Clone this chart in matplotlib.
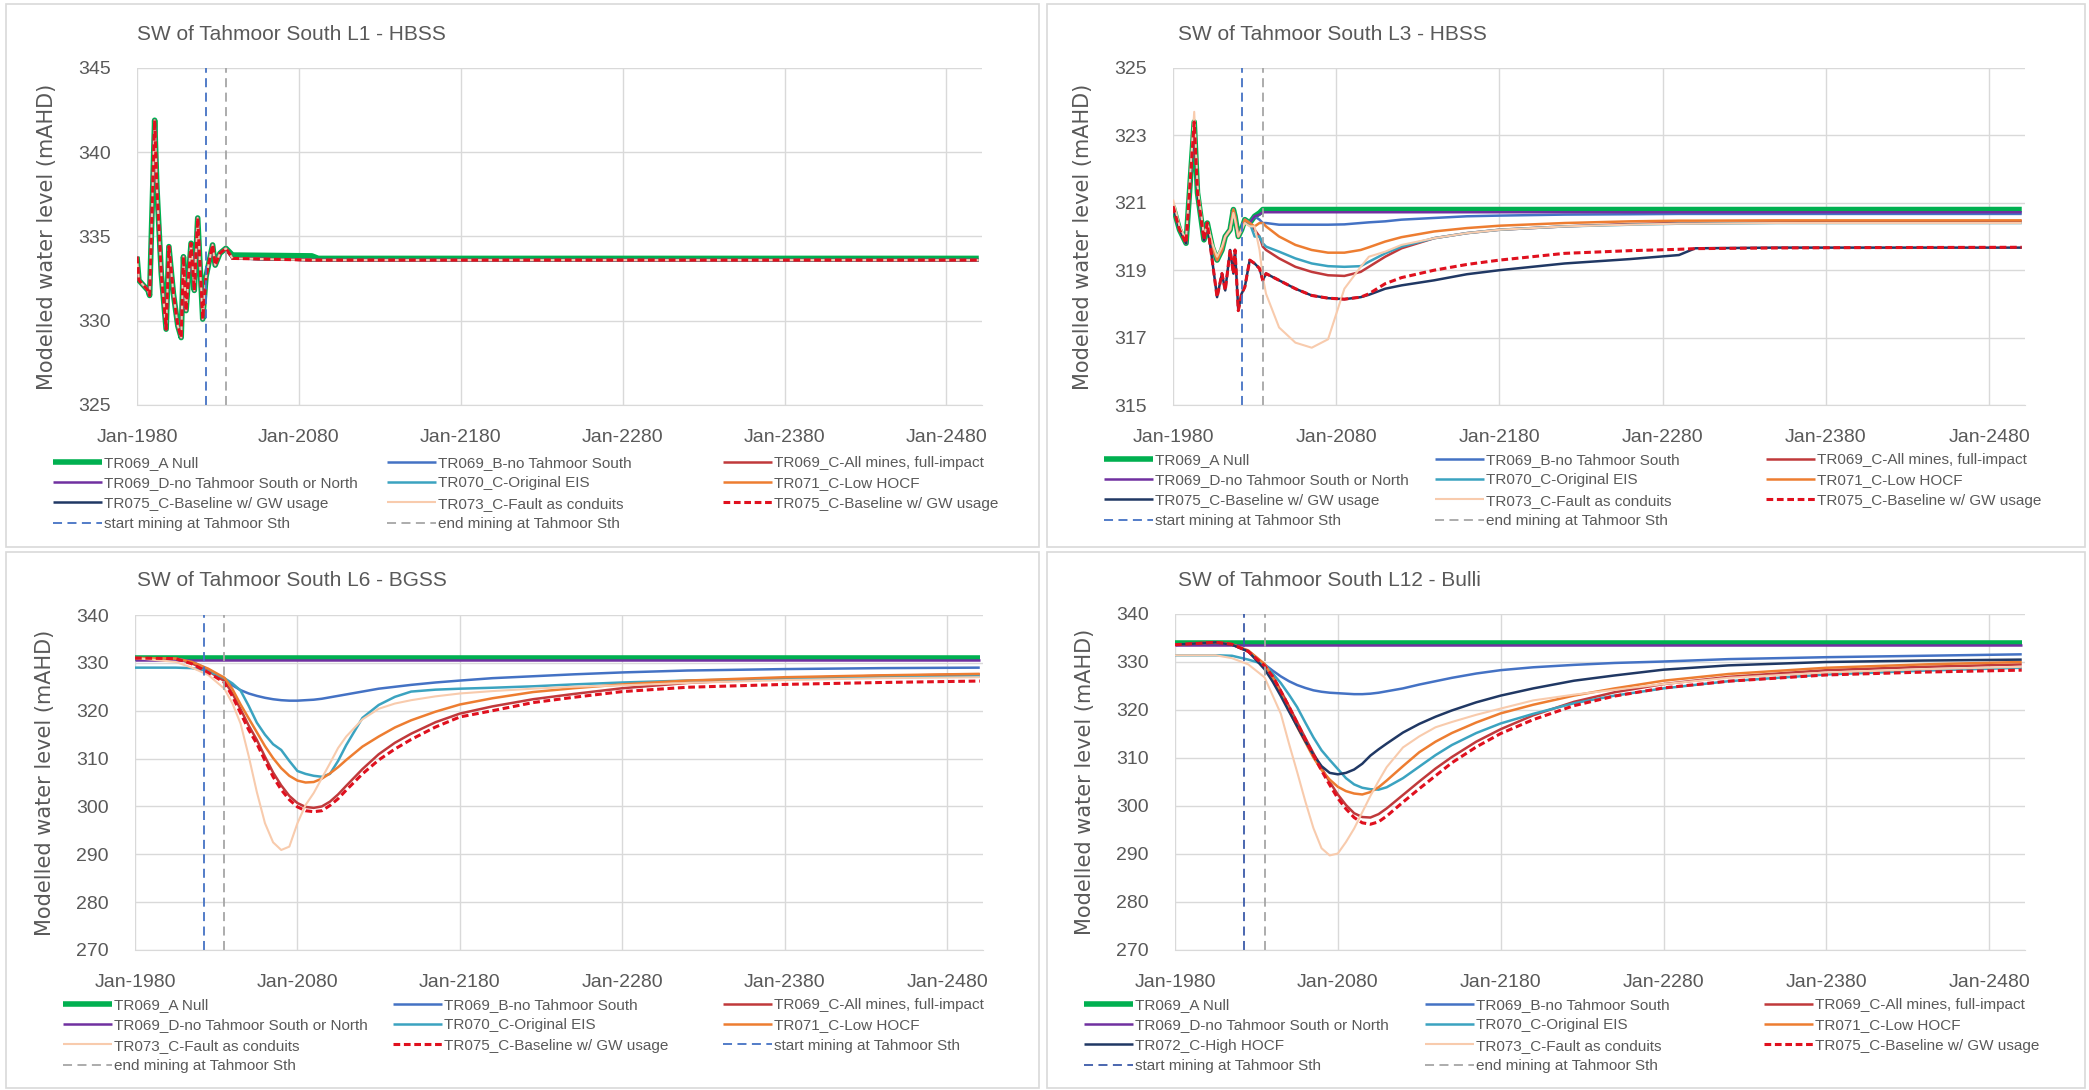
import matplotlib
matplotlib.use("Agg")
import matplotlib.pyplot as plt
from matplotlib.patches import Rectangle

W, H = 2089, 1090

# ---- shared text ----
x_ticks = [1980, 2080, 2180, 2280, 2380, 2480]
x_ticklabels = ["Jan-%d" % y for y in x_ticks]
start_mining = 2022.5
end_mining = 2035.0

labels = {
    "A": "TR069_A Null",
    "B": "TR069_B-no Tahmoor South",
    "C": "TR069_C-All mines, full-impact",
    "D": "TR069_D-no Tahmoor South or North",
    "70": "TR070_C-Original EIS",
    "71": "TR071_C-Low HOCF",
    "72": "TR072_C-High HOCF",
    "73": "TR073_C-Fault as conduits",
    "75": "TR075_C-Baseline w/ GW usage",
    "start": "start mining at Tahmoor Sth",
    "end": "end mining at Tahmoor Sth",
}
# the navy series carries the TR075 label in the two top panels
navy_label_top = "TR075_C-Baseline w/ GW usage"

# ---- L1 - HBSS ----
l1_years = [1980, 1981.2, 1986.8, 1987.8, 1990.9, 1992.3, 1995, 1998, 1999.7, 2002.5, 2005.2,
            2007.3, 2008.7, 2010.3, 2013.4, 2015.4, 2017.5, 2020.6, 2022.6, 2026.7, 2028.3,
            2031.2, 2034.9, 2039, 2088, 2092, 2500]
l1_null = [333.8, 332.4, 331.8, 331.5, 341.9, 337.9, 332.8, 329.5, 334.4, 331.6, 329.7,
           329.0, 333.8, 330.6, 334.6, 331.8, 336.1, 330.1, 332.6, 334.5, 333.3,
           334.0, 334.3, 333.9, 333.85, 333.7, 333.7]
l1_scen = [333.8, 332.4, 331.8, 331.5, 341.9, 337.9, 332.8, 329.5, 334.4, 331.6, 329.7,
           329.0, 333.8, 330.6, 334.6, 331.8, 336.1, 330.1, 332.6, 334.5, 333.3,
           334.0, 334.3, 333.7, 333.6, 333.6, 333.6]

# ---- L3 - HBSS ----
l3_years = [1980, 1984, 1988, 1993, 1995, 1999, 2001, 2004, 2007, 2010, 2012, 2015, 2017, 2018,
            2020, 2022, 2024, 2027, 2030, 2033, 2035, 2037, 2045, 2055, 2065, 2075, 2085, 2095,
            2100, 2110, 2120, 2140, 2160, 2180, 2220, 2260, 2290, 2300, 2350, 2400, 2500]
l3_A = [320.9, 320.2, 319.8, 323.4, 321.3, 319.9, 320.4, 319.7, 319.3, 319.6, 320.0, 320.2, 320.8, 320.6,
        320.0, 320.2, 320.5, 320.4, 320.6, 320.7, 320.8, 320.8, 320.8, 320.8, 320.8, 320.8, 320.8, 320.8,
        320.8, 320.8, 320.8, 320.8, 320.8, 320.8, 320.8, 320.8, 320.8, 320.8, 320.8, 320.8, 320.8]
l3_B = [320.9, 320.2, 319.8, 323.4, 321.3, 319.9, 320.4, 319.7, 319.3, 319.6, 320.0, 320.2, 320.8, 320.6,
        320.0, 320.2, 320.5, 320.4, 320.6, 320.5, 320.4, 320.4, 320.35, 320.35, 320.35, 320.35, 320.36, 320.4,
        320.42, 320.45, 320.5, 320.55, 320.6, 320.62, 320.65, 320.66, 320.67, 320.67, 320.67, 320.67, 320.67]
l3_C = [320.9, 320.2, 319.8, 323.4, 321.3, 319.9, 320.4, 319.7, 319.3, 319.6, 320.0, 320.2, 320.8, 320.6,
        320.0, 320.2, 320.5, 320.4, 320.2, 320.0, 319.7, 319.6, 319.35, 319.1, 318.95, 318.85, 318.83, 318.95,
        319.1, 319.4, 319.65, 319.95, 320.1, 320.2, 320.3, 320.37, 320.4, 320.4, 320.42, 320.43, 320.45]
l3_D = [320.9, 320.2, 319.8, 323.4, 321.3, 319.9, 320.4, 319.7, 319.3, 319.6, 320.0, 320.2, 320.8, 320.6,
        320.0, 320.2, 320.5, 320.4, 320.6, 320.65, 320.72, 320.72, 320.72, 320.72, 320.72, 320.72, 320.72, 320.72,
        320.72, 320.72, 320.72, 320.72, 320.72, 320.72, 320.72, 320.72, 320.72, 320.72, 320.72, 320.72, 320.72]
l3_70 = [320.9, 320.2, 319.8, 323.4, 321.3, 319.9, 320.4, 319.7, 319.3, 319.6, 320.0, 320.2, 320.8, 320.6,
         320.0, 320.2, 320.5, 320.4, 320.0, 320.0, 319.8, 319.7, 319.55, 319.35, 319.2, 319.12, 319.1, 319.12,
         319.25, 319.5, 319.7, 319.95, 320.1, 320.2, 320.3, 320.35, 320.38, 320.38, 320.4, 320.4, 320.4]
l3_71 = [320.9, 320.2, 319.8, 323.4, 321.3, 319.9, 320.4, 319.7, 319.3, 319.6, 320.0, 320.2, 320.8, 320.6,
         320.0, 320.2, 320.5, 320.4, 320.3, 320.4, 320.4, 320.3, 320.0, 319.75, 319.6, 319.52, 319.52, 319.6,
         319.68, 319.85, 319.98, 320.15, 320.25, 320.32, 320.4, 320.45, 320.47, 320.47, 320.48, 320.48, 320.48]
l3_72 = [320.9, 320.2, 319.8, 323.4, 321.3, 319.9, 320.4, 319.3, 318.2, 318.9, 318.4, 319.6, 318.9, 319.6,
         317.8, 318.3, 318.5, 319.3, 319.2, 319.05, 318.7, 318.9, 318.7, 318.45, 318.25, 318.17, 318.14, 318.2,
         318.27, 318.45, 318.55, 318.7, 318.88, 319.0, 319.2, 319.33, 319.45, 319.65, 319.67, 319.67, 319.67]
l3_73 = [321.1, 320.3, 319.9, 323.7, 321.5, 320.0, 320.4, 319.8, 319.4, 319.7, 320.0, 320.2, 320.7, 320.5,
         320.0, 320.2, 320.4, 320.3, 320.3, 319.6, 318.8, 318.3, 317.3, 316.85, 316.7, 316.95, 318.45, 319.1,
         319.4, 319.55, 319.75, 319.95, 320.1, 320.2, 320.3, 320.35, 320.38, 320.38, 320.4, 320.4, 320.4]
l3_75 = [320.9, 320.2, 319.8, 323.4, 321.3, 319.9, 320.4, 319.3, 318.2, 318.9, 318.4, 319.6, 318.9, 319.6,
         317.8, 318.3, 318.5, 319.3, 319.2, 319.05, 318.7, 318.9, 318.7, 318.45, 318.25, 318.17, 318.14, 318.2,
         318.3, 318.6, 318.78, 319.0, 319.17, 319.3, 319.5, 319.58, 319.62, 319.64, 319.66, 319.67, 319.68]

# ---- L6 - BGSS and L12 - Bulli share one year grid ----
deep_years = [1980, 2005, 2015, 2025, 2035, 2040, 2045, 2050, 2055, 2060, 2065, 2070, 2075, 2080, 2085,
              2090, 2095, 2100, 2105, 2110, 2120, 2130, 2140, 2150, 2165, 2180, 2200, 2225, 2250, 2280,
              2320, 2380, 2440, 2500]

l6_A = [331.0] * 34
l6_D = [330.5] * 34
l6_B = [331.0, 330.9, 330.3, 328.6, 326.5, 325.3, 324.3, 323.6, 323.1, 322.7, 322.4, 322.2, 322.1, 322.1, 322.2,
        322.3, 322.5, 322.8, 323.1, 323.4, 324.0, 324.6, 325.0, 325.4, 325.9, 326.3, 326.8, 327.2, 327.6, 328.0,
        328.4, 328.7, 328.9, 329.0]
l6_C = [331.0, 330.9, 329.9, 328.3, 326.2, 323.6, 320.3, 316.9, 313.9, 310.4, 307.1, 304.4, 302.2, 300.7, 299.9,
        299.7, 300.0, 301.0, 302.5, 304.3, 307.8, 310.9, 313.3, 315.2, 317.6, 319.4, 320.9, 322.4, 323.5, 324.7,
        325.8, 326.8, 327.3, 327.6]
l6_70 = [329.0, 329.0, 328.9, 328.3, 326.8, 325.7, 324.2, 321.0, 317.5, 315.0, 313.0, 311.8, 309.5, 307.4, 306.8,
         306.4, 306.2, 306.8, 309.5, 312.8, 318.5, 321.2, 322.9, 324.0, 324.4, 324.6, 324.8, 325.1, 325.5, 325.9,
         326.3, 326.7, 327.0, 327.2]
l6_71 = [331.0, 330.9, 330.2, 328.8, 326.9, 324.5, 321.3, 318.4, 315.5, 312.6, 310.1, 308.0, 306.4, 305.4, 305.0,
         305.1, 305.8, 306.9, 308.2, 309.7, 312.5, 314.6, 316.5, 318.0, 319.8, 321.3, 322.6, 323.9, 324.7, 325.5,
         326.3, 327.0, 327.4, 327.7]
l6_73 = [331.0, 330.2, 329.0, 327.5, 324.6, 321.5, 317.3, 310.5, 303.0, 296.5, 292.5, 290.9, 291.6, 296.5, 300.3,
         302.8, 305.9, 309.0, 312.2, 314.6, 318.2, 320.4, 321.5, 322.2, 323.0, 323.6, 324.1, 324.6, 325.0, 325.3,
         325.8, 326.4, 326.8, 327.0]
l6_75 = [331.0, 330.9, 329.8, 328.0, 325.9, 323.0, 319.5, 316.0, 313.1, 309.6, 306.2, 303.5, 301.4, 299.9, 299.1,
         298.9, 299.1, 300.2, 301.6, 303.4, 306.8, 309.7, 312.0, 314.0, 316.6, 318.7, 320.0, 321.7, 322.8, 324.0,
         324.9, 325.5, 325.9, 326.2]

l12_A = [333.9] * 34
l12_D = [333.5] * 34
l12_B = [333.6, 334.0, 333.6, 332.3, 329.5, 328.2, 327.0, 326.0, 325.2, 324.6, 324.1, 323.8, 323.6, 323.5, 323.4,
         323.3, 323.3, 323.4, 323.6, 323.9, 324.5, 325.3, 326.0, 326.7, 327.6, 328.3, 328.9, 329.4, 329.8, 330.1,
         330.6, 331.0, 331.3, 331.6]
l12_C = [333.6, 334.1, 333.7, 332.2, 329.3, 327.1, 324.0, 320.8, 317.5, 314.2, 311.0, 307.9, 305.0, 302.4, 300.2,
         298.5, 297.7, 297.6, 298.3, 299.5, 302.3, 305.1, 307.8, 310.2, 313.4, 316.0, 318.9, 321.7, 323.7, 325.4,
         326.9, 328.3, 329.0, 329.5]
l12_70 = [331.4, 331.4, 331.3, 330.5, 329.5, 327.6, 325.6, 323.2, 320.6, 317.4, 314.3, 311.6, 309.6, 307.7, 305.8,
          304.5, 303.8, 303.5, 303.4, 303.9, 305.8, 308.2, 310.6, 312.7, 315.2, 317.2, 319.2, 321.4, 323.0, 324.5,
          326.0, 327.4, 328.2, 328.8]
l12_71 = [333.6, 334.1, 333.7, 332.4, 329.6, 326.8, 323.4, 320.0, 316.5, 313.3, 310.1, 307.5, 305.5, 304.0, 303.1,
          302.6, 302.4, 302.9, 303.9, 305.3, 308.3, 311.2, 313.4, 315.2, 317.4, 319.3, 321.1, 323.0, 324.5, 326.1,
          327.5, 328.8, 329.5, 330.0]
l12_72 = [333.6, 334.1, 333.6, 332.2, 328.5, 325.9, 322.9, 319.7, 316.6, 313.5, 310.7, 308.3, 306.9, 306.6, 306.9,
          307.6, 308.8, 310.5, 311.8, 313.0, 315.3, 317.1, 318.6, 319.9, 321.6, 323.0, 324.5, 326.1, 327.2, 328.4,
          329.3, 330.0, 330.3, 330.5]
l12_73 = [331.4, 331.4, 330.8, 329.5, 326.8, 323.0, 319.2, 313.0, 307.1, 301.0, 295.4, 291.2, 289.7, 290.1, 292.5,
          295.3, 298.7, 302.1, 305.2, 308.1, 312.2, 314.5, 316.4, 317.5, 319.0, 320.3, 322.0, 323.2, 324.2, 325.4,
          326.7, 327.8, 328.5, 329.0]
l12_75 = [333.6, 334.1, 333.7, 332.2, 329.2, 327.0, 323.9, 320.7, 317.3, 313.9, 310.6, 307.4, 304.4, 301.6, 299.4,
          297.6, 296.5, 296.2, 296.7, 297.9, 300.8, 303.6, 306.3, 309.0, 312.3, 315.1, 318.0, 320.9, 322.9, 324.6,
          326.0, 327.3, 327.9, 328.3]

# ---- styles ----
colors = {"A": "#00B050", "B": "#4472C4", "C": "#C0393B", "D": "#7030A0", "70": "#3BA3C0",
          "71": "#ED7D31", "72": "#203864", "73": "#F8CBAD", "75": "#E0101E"}
widths = {"A": 4.0, "73": 1.5, "75": 2.2}
c_start, c_end = "#4472C4", "#A6A6A6"
txt_col = "#595959"
grid_col = "#D9D9D9"

plt.rcParams["font.family"] = ["Liberation Sans", "DejaVu Sans"]

fig = plt.figure(figsize=(W / 100, H / 100), dpi=100)
fig.patch.set_facecolor("white")

for x0, y0, x1, y1 in [(6, 4, 1039, 547), (1047, 4, 2085, 547), (6, 552, 1039, 1088), (1047, 552, 2085, 1088)]:
    fig.add_artist(Rectangle((x0 / W, 1 - y1 / H), (x1 - x0) / W, (y1 - y0) / H,
                             transform=fig.transFigure, fill=False, edgecolor=grid_col, lw=1.2))


def make_axes(left, top, right, bottom):
    return fig.add_axes([left / W, 1 - bottom / H, (right - left) / W, (bottom - top) / H])


def draw_panel(ax, title, title_xy, years, series, ylim, yticks, start_col=c_start):
    handles = {}
    for key, vals in series:
        ls = (0, (2.2, 1.2)) if key == "75" else "-"
        ln, = ax.plot(years, vals, color=colors[key], lw=widths.get(key, 1.8), linestyle=ls,
                      solid_capstyle="butt")
        handles[key] = ln
    handles["start"] = ax.axvline(start_mining, color=start_col, lw=1.3, linestyle=(0, (5, 3)))
    handles["end"] = ax.axvline(end_mining, color=c_end, lw=1.3, linestyle=(0, (5, 3)))

    ax.set_xlim(1980, 2502)
    ax.set_ylim(*ylim)
    ax.set_yticks(yticks)
    ax.set_xticks(x_ticks)
    ax.set_xticklabels(x_ticklabels)
    ax.grid(True, color=grid_col, lw=1.0)
    ax.set_axisbelow(True)
    for s in ["top", "right", "left"]:
        ax.spines[s].set_visible(False)
    ax.spines["bottom"].set_color(grid_col)
    ax.tick_params(length=0, labelsize=14, colors=txt_col)
    ax.tick_params(axis="y", pad=19)
    ax.tick_params(axis="x", pad=17)
    ax.set_ylabel("Modelled water level (mAHD)", fontsize=15, color=txt_col, family="DejaVu Sans")
    ax.yaxis.set_label_coords(-80 / (ax.get_position().width * W), 0.5)
    fig.text(title_xy[0] / W, 1 - title_xy[1] / H, title, fontsize=15, color=txt_col,
             ha="left", va="center")
    return handles


def panel_legend(handles, cols, y, navy_label=None):
    for x, keys in cols:
        names = [navy_label if (k == "72" and navy_label) else labels[k] for k in keys]
        leg = fig.legend([handles[k] for k in keys], names, loc="upper left",
                         bbox_to_anchor=(x / W, 1 - y / H), bbox_transform=fig.transFigure,
                         frameon=False, borderpad=0, borderaxespad=0, handlelength=3.2,
                         handletextpad=0.15, labelspacing=0.42,
                         prop={"family": ["Liberation Sans", "DejaVu Sans"], "size": 11})
        for t in leg.get_texts():
            t.set_color(txt_col)


top_cols = [["A", "D", "72", "start"], ["B", "70", "73", "end"], ["C", "71", "75"]]

# ---- top-left: L1 ----
ax1 = make_axes(137, 68, 982, 405)
h1 = draw_panel(ax1, "SW of Tahmoor South L1 - HBSS", (137, 35), l1_years,
                [("A", l1_null), ("B", l1_scen), ("C", l1_scen), ("D", l1_scen), ("70", l1_scen),
                 ("71", l1_scen), ("72", l1_scen), ("73", l1_scen), ("75", l1_scen)],
                (325, 345), [325, 330, 335, 340, 345])
panel_legend(h1, zip([53, 387, 723], top_cols), 456, navy_label_top)

# ---- top-right: L3 ----
ax2 = make_axes(1173, 68, 2025, 405)
h2 = draw_panel(ax2, "SW of Tahmoor South L3 - HBSS", (1178, 35), l3_years,
                [("A", l3_A), ("B", l3_B), ("C", l3_C), ("D", l3_D), ("70", l3_70),
                 ("71", l3_71), ("72", l3_72), ("73", l3_73), ("75", l3_75)],
                (315, 325), [315, 317, 319, 321, 323, 325])
panel_legend(h2, zip([1104, 1435, 1766], top_cols), 453, navy_label_top)

# ---- bottom-left: L6 ----
ax3 = make_axes(135, 615, 983, 950)
h3 = draw_panel(ax3, "SW of Tahmoor South L6 - BGSS", (137, 581), deep_years,
                [("A", l6_A), ("B", l6_B), ("C", l6_C), ("D", l6_D), ("70", l6_70),
                 ("71", l6_71), ("73", l6_73), ("75", l6_75)],
                (270, 340), [270, 280, 290, 300, 310, 320, 330, 340])
panel_legend(h3, zip([63, 393, 723], [["A", "D", "73", "end"], ["B", "70", "75"], ["C", "71", "start"]]), 998)

# ---- bottom-right: L12 ----
ax4 = make_axes(1175, 614, 2025, 950)
h4 = draw_panel(ax4, "SW of Tahmoor South L12 - Bulli", (1178, 581), deep_years,
                [("A", l12_A), ("B", l12_B), ("C", l12_C), ("D", l12_D), ("70", l12_70),
                 ("71", l12_71), ("72", l12_72), ("73", l12_73), ("75", l12_75)],
                (270, 340), [270, 280, 290, 300, 310, 320, 330, 340], start_col="#3B5BA9")
panel_legend(h4, zip([1084, 1425, 1764], top_cols), 998)

fig.savefig("out.png", dpi=100, facecolor="white")
